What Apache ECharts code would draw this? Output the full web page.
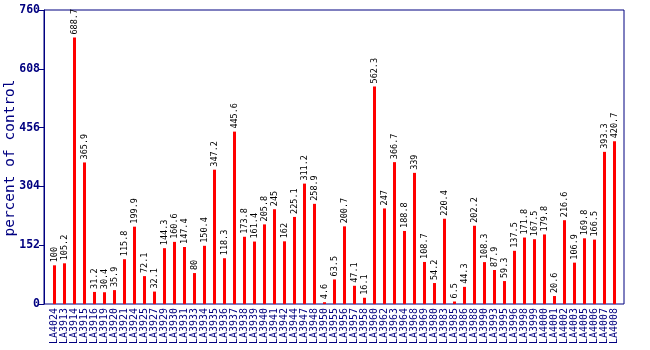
<!DOCTYPE html>
<html>
<head>
<meta charset="utf-8">
<script src="https://cdn.jsdelivr.net/npm/echarts@6/dist/echarts.min.js"></script>
<style>
html, body { margin: 0; padding: 0; background: #fff; }
#chart { width: 650px; height: 350px; }
</style>
</head>
<body>
<div id="chart"></div>
<script>
// Accession lines along the x axis
const lines = ['LA4024','LA3913','LA3914','LA3915','LA3916','LA3919','LA3920','LA3921','LA3924','LA3925',
  'LA3927','LA3929','LA3930','LA3931','LA3933','LA3934','LA3935','LA3936','LA3937','LA3938',
  'LA3939','LA3940','LA3941','LA3942','LA3944','LA3947','LA3948','LA3950','LA3955','LA3956',
  'LA3957','LA3958','LA3960','LA3962','LA3963','LA3964','LA3968','LA3969','LA3980','LA3983',
  'LA3985','LA3986','LA3988','LA3990','LA3993','LA3995','LA3996','LA3998','LA3999','LA4000',
  'LA4001','LA4002','LA4003','LA4005','LA4006','LA4007','LA4008'];

// Percent of control for each line
const percentOfControl = [100, 105.2, 688.7, 365.9, 31.2, 30.4, 35.9, 115.8, 199.9, 72.1,
  32.1, 144.3, 160.6, 147.4, 80, 150.4, 347.2, 118.3, 445.6, 173.8,
  161.4, 205.8, 245, 162, 225.1, 311.2, 258.9, 4.6, 63.5, 200.7,
  47.1, 16.1, 562.3, 247, 366.7, 188.8, 339, 108.7, 54.2, 220.4,
  6.5, 44.3, 202.2, 108.3, 87.9, 59.3, 137.5, 171.8, 167.5, 179.8,
  20.6, 216.6, 106.9, 169.8, 166.5, 393.3, 420.7];

// Value axis ticks
const yMin = 0, yMax = 760, yStep = 152;
const yTitle = 'percent of control';

const navy = '#000080';
const mono = '"DejaVu Sans Mono", "Liberation Mono", monospace';

const chart = echarts.init(document.getElementById('chart'), null, { renderer: 'canvas' });
chart.setOption({
  animation: false,
  backgroundColor: '#ffffff',
  grid: [
    // framed plot area
    { left: 44, right: 26, top: 10, bottom: 46, show: true, borderColor: navy, borderWidth: 1,
      backgroundColor: 'transparent', containLabel: false, outerBoundsMode: 'none' },
    // inner band where the bars sit
    { left: 49.5, right: 30.5, top: 10, bottom: 46, containLabel: false, outerBoundsMode: 'none' }
  ],
  // vertical y-axis title
  graphic: [{
    type: 'text', x: 10.5, y: 158, rotation: Math.PI / 2,
    style: { text: yTitle, fill: navy, font: '14.5px ' + mono, textAlign: 'center', textVerticalAlign: 'middle' }
  }],
  xAxis: [
    { gridIndex: 0, type: 'value', min: 0, max: 1, show: false },
    {
      gridIndex: 1, type: 'category', data: lines, boundaryGap: true,
      axisLine: { show: false }, axisTick: { show: false },
      axisLabel: { interval: 0, rotate: 90, margin: 4, color: navy, fontFamily: mono, fontSize: 10 }
    }
  ],
  yAxis: [
    {
      gridIndex: 0, type: 'value', min: yMin, max: yMax, interval: yStep, position: 'left',
      axisLine: { show: true, lineStyle: { color: navy, width: 1 } },
      axisTick: { show: true, inside: false, length: 5, lineStyle: { color: navy } },
      axisLabel: { inside: false, align: 'right', color: navy, fontFamily: mono, fontWeight: 'bold',
                   fontSize: 11.5, margin: 4, showMinLabel: true, showMaxLabel: true, hideOverlap: false },
      splitLine: { show: false }
    },
    { gridIndex: 1, type: 'value', min: yMin, max: yMax, interval: yStep, show: false, splitLine: { show: false } }
  ],
  series: [{
    type: 'bar',
    xAxisIndex: 1, yAxisIndex: 1,
    data: percentOfControl,
    barWidth: 3,
    itemStyle: { color: '#ff0000' },
    label: {
      show: true, position: 'top', rotate: 90, align: 'left', verticalAlign: 'middle',
      distance: 3, color: '#000000', fontFamily: mono, fontSize: 8.5
    }
  }]
});
</script>
</body>
</html>
